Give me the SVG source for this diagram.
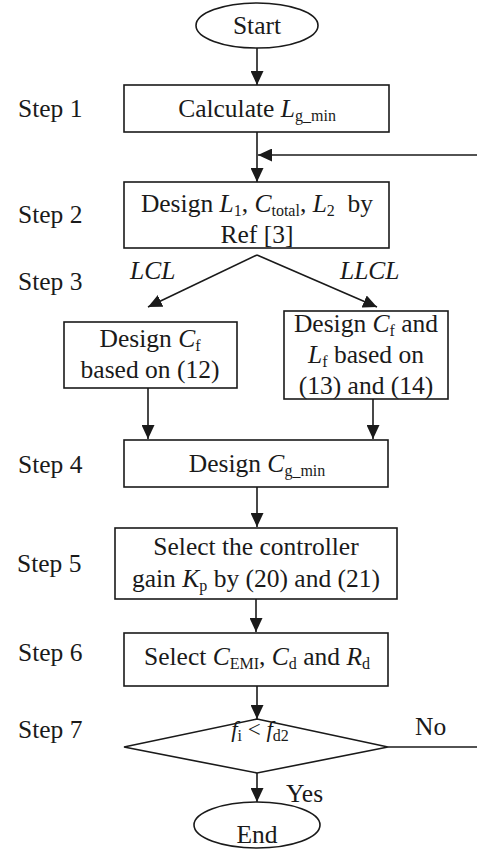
<svg xmlns="http://www.w3.org/2000/svg" width="477" height="852" viewBox="0 0 477 852">
<style>
.t{font-family:"Liberation Serif","Times New Roman","DejaVu Serif",serif;font-size:25.5px;fill:#1a1a1a}
.m{text-anchor:middle}
.i{font-style:italic}
.s{font-size:16px}
.box{fill:#fff;stroke:#1a1a1a;stroke-width:1.6}
.ln{fill:none;stroke:#1a1a1a;stroke-width:1.6}
</style>
<defs>
<marker id="ah" viewBox="0 0 14 13" refX="14" refY="6.5" markerWidth="14" markerHeight="13" markerUnits="userSpaceOnUse" orient="auto">
<path d="M0,0 L14,6.5 L0,13 z" fill="#1a1a1a"/>
</marker>
</defs>
<g id="labels">
<text class="t" x="18" y="117">Step 1</text>
<text class="t" x="18" y="223">Step 2</text>
<text class="t" x="18" y="290">Step 3</text>
<text class="t" x="18" y="473">Step 4</text>
<text class="t" x="17" y="572">Step 5</text>
<text class="t" x="18" y="661">Step 6</text>
<text class="t" x="18" y="738">Step 7</text>
</g>
<g id="connectors">
<line class="ln" x1="257" y1="48" x2="257" y2="85" marker-end="url(#ah)"/>
<line class="ln" x1="257" y1="132" x2="257" y2="182" marker-end="url(#ah)"/>
<line class="ln" x1="477" y1="155" x2="258" y2="155" marker-end="url(#ah)"/>
<line class="ln" x1="257" y1="255" x2="148" y2="307" marker-end="url(#ah)"/>
<line class="ln" x1="257" y1="255" x2="377" y2="307" marker-end="url(#ah)"/>
<line class="ln" x1="148" y1="388" x2="148" y2="439" marker-end="url(#ah)"/>
<line class="ln" x1="373" y1="399" x2="373" y2="439" marker-end="url(#ah)"/>
<line class="ln" x1="257" y1="487" x2="257" y2="527" marker-end="url(#ah)"/>
<line class="ln" x1="256" y1="599" x2="256" y2="632" marker-end="url(#ah)"/>
<line class="ln" x1="257" y1="686" x2="257" y2="719" marker-end="url(#ah)"/>
<line class="ln" x1="388" y1="747" x2="477" y2="747"/>
<line class="ln" x1="257" y1="773" x2="257" y2="802" marker-end="url(#ah)"/>
<text class="t i" x="130" y="279">LCL</text>
<text class="t i" x="340" y="279">LLCL</text>
<text class="t" x="415" y="735">No</text>
<text class="t" x="286" y="802">Yes</text>
</g>
<g id="start">
<ellipse class="box" cx="257" cy="25.5" rx="61" ry="22.5"/>
<text class="t m" x="257" y="34">Start</text>
</g>
<g id="step1">
<rect class="box" x="124" y="85" width="265" height="47"/>
<text class="t m" x="257" y="117">Calculate <tspan class="i">L</tspan><tspan class="s" dy="4">g_min</tspan></text>
</g>
<g id="step2">
<rect class="box" x="124" y="182" width="265" height="66"/>
<text class="t m" x="257" y="212">Design <tspan class="i">L</tspan><tspan class="s" dy="3.5">1</tspan><tspan dy="-3.5">, </tspan><tspan class="i">C</tspan><tspan class="s" dy="3.5">total</tspan><tspan dy="-3.5">, </tspan><tspan class="i">L</tspan><tspan class="s" dy="3.5">2</tspan><tspan dy="-3.5">&#160; by</tspan></text>
<text class="t m" x="257" y="243">Ref [3]</text>
</g>
<g id="lcl">
<rect class="box" x="64" y="322" width="173" height="66"/>
<text class="t m" x="150" y="347">Design <tspan class="i">C</tspan><tspan class="s" dy="3.5">f</tspan></text>
<text class="t m" x="150" y="378">based on (12)</text>
</g>
<g id="llcl">
<rect class="box" x="284" y="311" width="164" height="88"/>
<text class="t m" x="366" y="332">Design <tspan class="i">C</tspan><tspan class="s" dy="3.5">f</tspan><tspan dy="-3.5"> and</tspan></text>
<text class="t m" x="366" y="363"><tspan class="i">L</tspan><tspan class="s" dy="3.5">f</tspan><tspan dy="-3.5"> based on</tspan></text>
<text class="t m" x="366" y="394">(13) and (14)</text>
</g>
<g id="step4">
<rect class="box" x="124" y="440" width="264" height="47"/>
<text class="t m" x="257" y="472">Design <tspan class="i">C</tspan><tspan class="s" dy="4">g_min</tspan></text>
</g>
<g id="step5">
<rect class="box" x="115" y="528" width="282" height="71"/>
<text class="t m" x="256" y="555">Select the controller</text>
<text class="t m" x="256" y="587">gain <tspan class="i">K</tspan><tspan class="s" dy="4">p</tspan><tspan dy="-4"> by (20) and (21)</tspan></text>
</g>
<g id="step6">
<rect class="box" x="124" y="633" width="264" height="53"/>
<text class="t m" x="257" y="665">Select <tspan class="i">C</tspan><tspan class="s" dy="4">EMI</tspan><tspan dy="-4">, </tspan><tspan class="i">C</tspan><tspan class="s" dy="4">d</tspan><tspan dy="-4"> and </tspan><tspan class="i">R</tspan><tspan class="s" dy="4">d</tspan></text>
</g>
<g id="step7">
<polygon class="box" points="257,719 388,747 257,773 124,747"/>
<text class="t m" x="260" y="737" style="font-size:23px"><tspan class="i">f</tspan><tspan class="s" dy="4">i</tspan><tspan dy="-4"> &lt; </tspan><tspan class="i">f</tspan><tspan class="s" dy="4">d2</tspan></text>
</g>
<g id="end">
<ellipse class="box" cx="257" cy="825" rx="63" ry="23"/>
<text class="t m" x="257" y="843">End</text>
</g>
</svg>
